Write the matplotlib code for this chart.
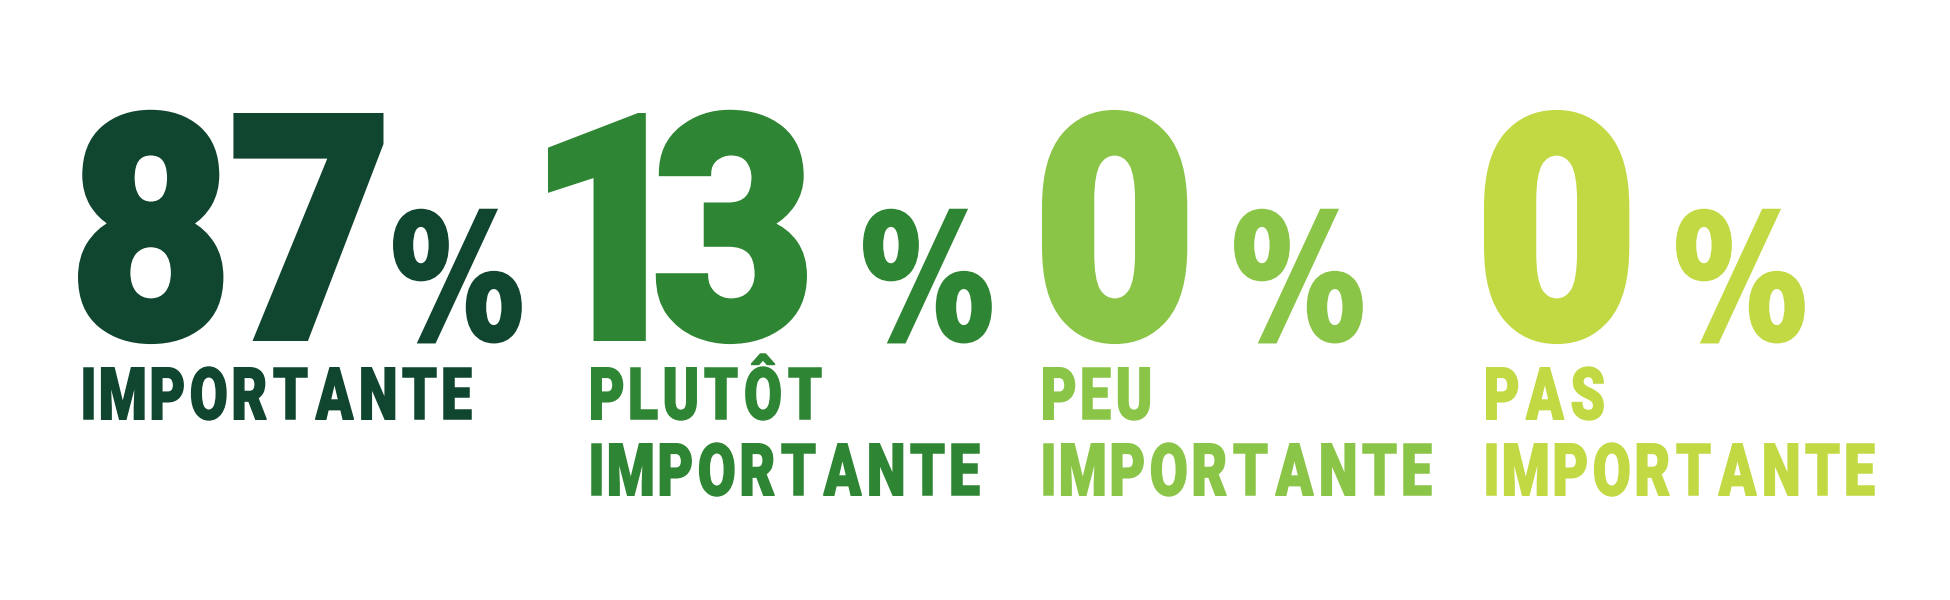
import matplotlib
matplotlib.use("Agg")
from matplotlib import pyplot as plt
from matplotlib.textpath import TextPath
from matplotlib.patches import PathPatch
from matplotlib.font_manager import FontProperties
from matplotlib.transforms import Affine2D

# values shown in the infographic
values = [87, 13, 0, 0]
labels = [["IMPORTANTE"],
          ["PLUTÔT", "IMPORTANTE"],
          ["PEU", "IMPORTANTE"],
          ["PAS", "IMPORTANTE"]]
colors = ["#10452F", "#2E8533", "#8BC548", "#C2D943"]

# layout (pixels, from top-left)
numX = [78, 548, 1042, 1484]
labX = [83, 591, 1043, 1486]
digitPitch = 123   # room taken by each digit before the % sign
pctPad = 69

fpText = FontProperties(family=["Roboto", "DejaVu Sans"], weight=900)
fpPct = FontProperties(family="DejaVu Sans", weight="bold")


def cap_of(fp):
    return TextPath((0, 0), "H", size=1, prop=fp).get_extents().height


def draw_word(ax, s, x, base, cap, squeeze, gap, color, fp, bold=0.0):
    # draws a condensed word glyph by glyph
    # bold: extra stroke (px) round each glyph to make it heavier
    sy = (cap - bold) / cap_of(fp)
    sx = sy * squeeze
    cursor = x + bold / 2
    for ch in s:
        p = TextPath((0, 0), ch, size=1, prop=fp)
        bb = p.get_extents()
        tr = Affine2D().translate(-bb.x0, 0).scale(sx, -sy).translate(cursor, base - bold / 2)
        ax.add_patch(PathPatch(tr.transform_path(p), facecolor=color, edgecolor=color,
                               lw=bold * 0.72, joinstyle="miter"))
        cursor += bb.width * sx + gap + bold


fig = plt.figure(figsize=(19.5, 6), dpi=100)
ax = fig.add_axes([0, 0, 1, 1])
ax.set_xlim(0, 1950)
ax.set_ylim(600, 0)
ax.axis("off")

for i in range(len(values)):
    txt = str(values[i])
    draw_word(ax, txt, numX[i], 341, 228, 0.9, 10, colors[i], fpText, bold=6)
    pctX = numX[i] + pctPad + digitPitch * len(txt)
    draw_word(ax, "%", pctX, 341, 130, 0.77, 0, colors[i], fpPct, bold=4)
    for j in range(len(labels[i])):
        draw_word(ax, labels[i][j], labX[i], 420 + j * 76, 53, 0.76, 7, colors[i],
                  fpText, bold=1.5)

fig.savefig("out.png", dpi=100, facecolor="white")
